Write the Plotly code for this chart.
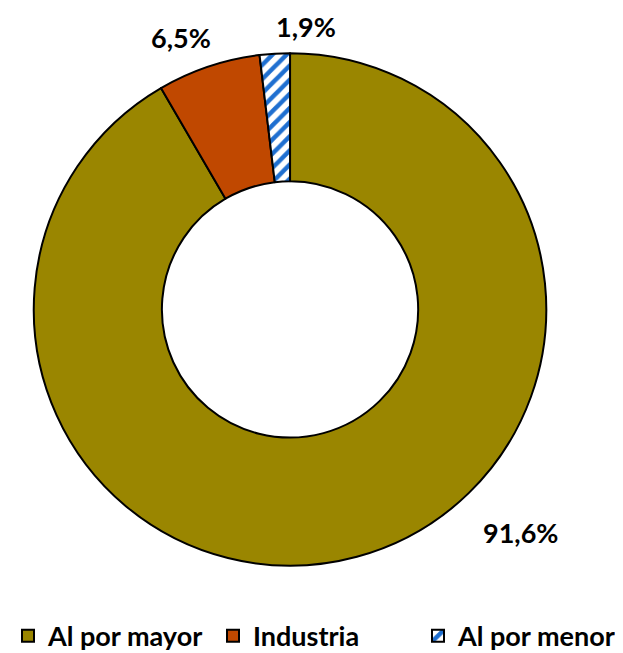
import plotly.graph_objects as go

categories = ["Al por mayor", "Industria", "Al por menor"]
values = [91.6, 6.5, 1.9]
label_texts = ["91,6%", "6,5%", "1,9%"]
colors = ["#9a8600", "#c04800", "#ffffff"]

FONT = "Lato, Roboto, sans-serif"

fig = go.Figure()
fig.add_trace(go.Pie(
    labels=categories,
    values=values,
    hole=0.5,
    sort=False,
    direction="clockwise",
    rotation=0,
    textinfo="none",
    hoverinfo="label+percent",
    marker=dict(
        colors=colors,
        line=dict(color="#000000", width=2),
        pattern=dict(
            shape=["", "", "/"],
            fgcolor="#1f6fd0",
            bgcolor="#ffffff",
            size=10,
            solidity=0.45,
        ),
    ),
    domain=dict(x=[0.0353, 0.8701], y=[0.1354, 0.93]),
))

label_pos = [(0.822, 0.1864), (0.2776, 0.955), (0.4785, 0.972)]
for txt, (lx, ly) in zip(label_texts, label_pos):
    fig.add_annotation(
        x=lx, y=ly, xref="paper", yref="paper",
        text="<b>" + txt + "</b>", showarrow=False,
        font=dict(family=FONT, size=27, color="#000000"),
        xanchor="center", yanchor="middle",
    )

fig.update_layout(
    width=623, height=653,
    margin=dict(l=0, r=0, t=0, b=0),
    paper_bgcolor="#ffffff",
    plot_bgcolor="#ffffff",
    font=dict(family=FONT, size=26, color="#000000"),
    showlegend=True,
    legend=dict(
        orientation="h",
        x=0.0, y=0.026, xanchor="left", yanchor="middle",
        font=dict(family=FONT, size=27, color="#000000", weight="bold"),
        itemsizing="constant",
        traceorder="normal",
        entrywidth=160,
        entrywidthmode="pixels",
    ),
)

fig.write_html("out.html")
